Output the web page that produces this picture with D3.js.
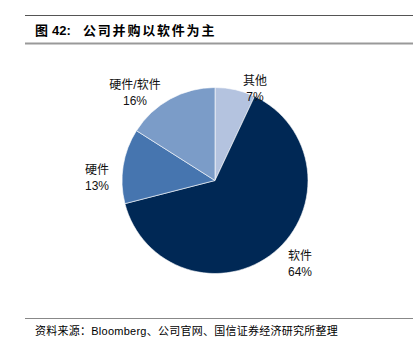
<!DOCTYPE html>
<html><head><meta charset="utf-8">
<script src="https://cdn.jsdelivr.net/npm/d3@7/dist/d3.min.js"></script>
<style>body{margin:0;background:#fff;}svg{display:block;}</style>
</head><body>
<svg id="c" width="419" height="353"></svg>
<script>
const categories = ["其他", "软件", "硬件", "硬件/软件"];
const values = [7, 64, 13, 16];
const labels = ["7%", "64%", "13%", "16%"];
const colors = ["#b4c3df", "#002855", "#4675af", "#7b9cc8"];
const labelPos = [[255, 81], [300, 256], [97, 170], [135, 85]];

const svg = d3.select("#c");
const font = "'Liberation Sans', Arial, 'Noto Sans CJK SC', sans-serif";

svg.append("line").attr("x1", 25).attr("x2", 413).attr("y1", 15.5).attr("y2", 15.5)
  .attr("stroke", "#555").attr("stroke-width", 1);
svg.append("line").attr("x1", 25).attr("x2", 413).attr("y1", 43.5).attr("y2", 43.5)
  .attr("stroke", "#999").attr("stroke-width", 2);
const title = svg.append("text").attr("y", 35).attr("font-family", font)
  .attr("font-size", 13).attr("font-weight", "bold").attr("fill", "#000");
title.append("tspan").attr("x", 35).text("图");
title.append("tspan").attr("x", 52).text("42:");
title.append("tspan").attr("x", 83).attr("letter-spacing", 1.8).text("公司并购以软件为主");

svg.append("line").attr("x1", 25).attr("x2", 413).attr("y1", 318.5).attr("y2", 318.5)
  .attr("stroke", "#888").attr("stroke-width", 1);
svg.append("text").attr("x", 35).attr("y", 335).attr("font-family", font)
  .attr("font-size", 11).attr("letter-spacing", 0.25).attr("fill", "#000")
  .text("资料来源：Bloomberg、公司官网、国信证券经济研究所整理");

const cx = 215, cy = 180.5, r = 93;
const pie = d3.pie().sort(null).value(d => d)(values);
const arc = d3.arc().innerRadius(0).outerRadius(r);
const g = svg.append("g").attr("transform", `translate(${cx},${cy})`);
g.selectAll("path").data(pie).join("path")
  .attr("d", arc).attr("fill", (d, i) => colors[i])
  .attr("stroke", "#fff").attr("stroke-width", 0.6);

categories.forEach((c, i) => {
  const t = svg.append("text").attr("text-anchor", "middle")
    .attr("font-family", font).attr("font-size", 12).attr("fill", "#111");
  t.append("tspan").attr("x", labelPos[i][0]).attr("y", labelPos[i][1] + 4).text(c);
  t.append("tspan").attr("x", labelPos[i][0]).attr("y", labelPos[i][1] + 19.5).text(labels[i]);
});
</script>
</body></html>
